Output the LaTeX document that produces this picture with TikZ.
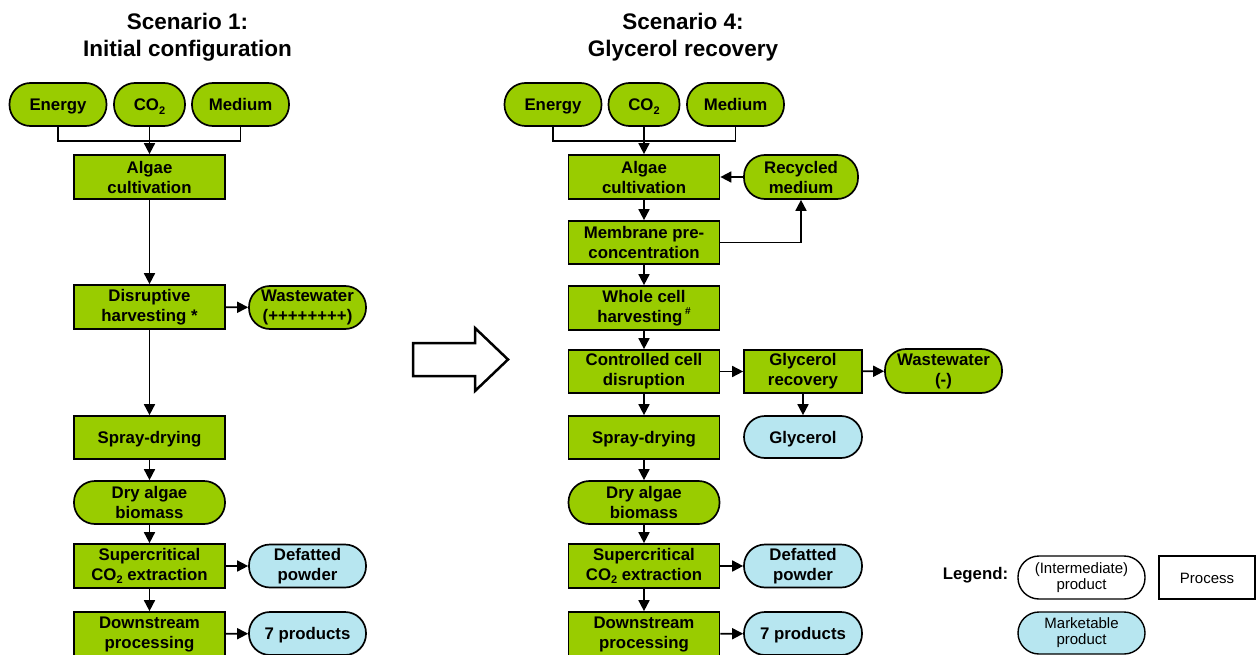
\documentclass[tikz,border=0pt]{standalone}
\usepackage{fontspec}
\setmainfont{Liberation Sans}
\usetikzlibrary{arrows.meta}
\definecolor{algaegreen}{HTML}{99CC00}
\definecolor{prodblue}{HTML}{B7E6F0}
% CO2 with a lowered small 2, and a raised small hash mark
\newcommand\cotwo{CO\raisebox{-0.22em}{\fontsize{11}{11}\selectfont 2}}
\newcommand\hashmark{\raisebox{0.45em}{\fontsize{10}{10}\selectfont\#}}
\begin{document}
\begin{tikzpicture}[x=1pt,y=-1pt,
  base/.style={draw=black, line width=1.7pt, inner sep=0pt, align=center,
    font=\fontsize{16.8}{20}\selectfont\bfseries},
  oneline/.style={text height=13.5pt, text depth=1.5pt},
  procbox/.style={base, rectangle, fill=algaegreen, minimum width=151pt, minimum height=44pt},
  inbox/.style={base, rounded corners=21pt, fill=algaegreen, minimum height=43pt},
  mktbox/.style={base, rounded corners=21pt, fill=prodblue, minimum height=43pt},
  title/.style={inner sep=0pt, align=center, font=\fontsize{22.5}{27}\selectfont\bfseries},
  legbase/.style={draw=black, line width=1.4pt, inner sep=0pt, align=center,
    font=\fontsize{15}{16}\selectfont, minimum height=43pt},
  link/.style={line width=1.7pt},
  arr/.style={line width=1.7pt, -{Triangle[length=11pt,width=11pt]}}]

\useasboundingbox (0,0) rectangle (1257,655);

% ---------- Scenario 1 ----------
\node[title] (t1) at (187.5,37.5) {Scenario 1:\\Initial configuration};

\node[inbox, oneline, minimum width=97pt] (e1) at (58,104.5) {Energy};
\node[inbox, oneline, minimum width=71pt] (co1) at (149.5,104.5) {\cotwo};
\node[inbox, oneline, minimum width=97pt] (m1) at (240.5,104.5) {Medium};
\node[procbox] (alg1) at (149.5,177) {Algae\\cultivation};
\node[procbox] (dis1) at (149.5,307) {Disruptive\\harvesting *};
\node[inbox, minimum width=117pt] (ww1) at (307.5,307.5) {Wastewater\\(++++++++)};
\node[procbox, oneline, minimum height=43pt] (spr1) at (149.5,437.5) {Spray-drying};
\node[inbox, minimum width=151pt] (dry1) at (149.5,502.5) {Dry algae\\biomass};
\node[procbox] (sc1) at (149.5,566) {Supercritical\\\cotwo{} extraction};
\node[mktbox, minimum width=117pt] (def1) at (307.5,566) {Defatted\\powder};
\node[procbox] (ds1) at (149.5,634) {Downstream\\processing};
\node[mktbox, oneline, minimum width=117pt] (p71) at (307.5,633.5) {7 products};

\coordinate (j1) at (149.5,141);
\draw[link] (e1.south) |- (j1);
\draw[link] (m1.south) |- (j1);
\draw[arr] (co1.south) -- (alg1.north);
\draw[arr] (alg1) -- (dis1);
\draw[arr] (dis1) -- (ww1);
\draw[arr] (dis1) -- (spr1);
\draw[arr] (spr1) -- (dry1);
\draw[arr] (dry1) -- (sc1);
\draw[arr] (sc1) -- (def1);
\draw[arr] (sc1) -- (ds1);
\draw[arr] (ds1) -- (p71);

% ---------- transition arrow ----------
\draw[line width=2.5pt, fill=white, line join=miter]
  (413,343) -- (475,343) -- (475,328) -- (508,359.5) -- (475,391)
  -- (475,376) -- (413,376) -- cycle;

% ---------- Scenario 4 ----------
\node[title] (t2) at (683,37.5) {Scenario 4:\\Glycerol recovery};

\node[inbox, oneline, minimum width=97pt] (e2) at (553,104.5) {Energy};
\node[inbox, oneline, minimum width=71pt] (co2) at (644,104.5) {\cotwo};
\node[inbox, oneline, minimum width=97pt] (m2) at (735.5,104.5) {Medium};
\node[procbox] (alg2) at (644,177) {Algae\\cultivation};
\node[inbox, minimum width=114pt, minimum height=44pt] (rec) at (801,177) {Recycled\\medium};
\node[procbox, minimum height=43pt] (mem) at (644,242.5) {Membrane pre-\\concentration};
\node[procbox] (who) at (644,308) {Whole cell\\harvesting\,\hashmark};
\node[procbox, minimum height=43pt] (con) at (644,371.5) {Controlled cell\\disruption};
\node[procbox, minimum width=118pt, minimum height=43pt] (gr) at (803,371.5) {Glycerol\\recovery};
\node[inbox, minimum width=117pt, minimum height=44pt] (ww2) at (943.5,371) {Wastewater\\(-)};
\node[mktbox, oneline, minimum width=118pt, minimum height=42pt] (gly) at (803,437) {Glycerol};
\node[procbox, oneline, minimum height=43pt] (spr2) at (644,437.5) {Spray-drying};
\node[inbox, minimum width=151pt] (dry2) at (644,502.5) {Dry algae\\biomass};
\node[procbox] (sc2) at (644,566) {Supercritical\\\cotwo{} extraction};
\node[mktbox, minimum width=118pt] (def2) at (803,566) {Defatted\\powder};
\node[procbox] (ds2) at (644,634) {Downstream\\processing};
\node[mktbox, oneline, minimum width=118pt] (p72) at (803,633.5) {7 products};

\coordinate (j2) at (644,141);
\draw[link] (e2.south) |- (j2);
\draw[link] (m2.south) |- (j2);
\draw[arr] (co2.south) -- (alg2.north);
\draw[arr] (rec.west) -- (alg2.east);
\draw[arr] (alg2) -- (mem);
\draw[arr] (mem.east) -| (rec.south);
\draw[arr] (mem) -- (who);
\draw[arr] (who) -- (con);
\draw[arr] (con) -- (gr);
\draw[arr] (gr) -- (ww2);
\draw[arr] (gr) -- (gly);
\draw[arr] (con) -- (spr2);
\draw[arr] (spr2) -- (dry2);
\draw[arr] (dry2) -- (sc2);
\draw[arr] (sc2) -- (def2);
\draw[arr] (sc2) -- (ds2);
\draw[arr] (ds2) -- (p72);

% ---------- legend ----------
\node[inner sep=0pt, font=\fontsize{16.8}{20}\selectfont\bfseries] (leg) at (975.5,575) {Legend:};
\node[legbase, rounded corners=21pt, fill=white, minimum width=127pt] (lint) at (1081.5,577.5) {(Intermediate)\\product};
\node[legbase, oneline, rectangle, fill=white, minimum width=96pt] (lproc) at (1207,577.5) {Process};
\node[legbase, rounded corners=21pt, fill=prodblue, minimum width=127pt, minimum height=42pt] (lmkt) at (1081.5,633) {Marketable\\product};

\end{tikzpicture}
\end{document}
